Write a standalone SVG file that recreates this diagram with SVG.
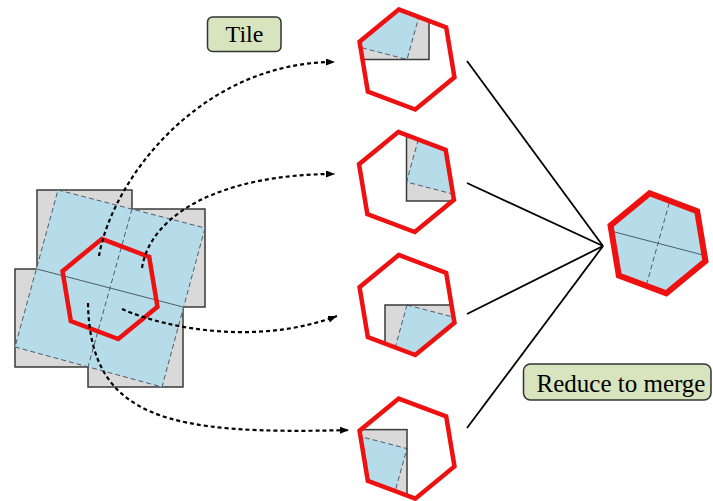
<svg xmlns="http://www.w3.org/2000/svg" width="713" height="501" viewBox="0 0 713 501">
<style>
.gray{fill:#d9d9d9;stroke:none}
.grayedge{fill:none;stroke:#3a3a3a;stroke-width:1.5}
.blue{fill:#b5dce8;stroke:none}
.dash{fill:none;stroke:#4d5b68;stroke-width:1;stroke-dasharray:5 3}
.solidthin{fill:none;stroke:#4d5b68;stroke-width:1}
.hex{fill:none;stroke:#ee1111;stroke-width:4.5;stroke-linejoin:miter}
.dots{fill:none;stroke:#000;stroke-width:2.2;stroke-dasharray:4 3}
.conn{fill:none;stroke:#000;stroke-width:1.8}
.lbl{fill:#d7e4bd;stroke:#333;stroke-width:1.5}
.txt{font-family:"Liberation Serif","Times New Roman",serif;fill:#000;text-anchor:middle}
</style>
<defs>
<path id="hexp" d="M-8.28,-50.02 L39.18,-32.18 L47.46,17.84 L8.28,50.02 L-39.18,32.18 L-47.46,-17.84 Z"/>
<clipPath id="hexclip"><use href="#hexp"/></clipPath>
<marker id="ah" markerUnits="userSpaceOnUse" markerWidth="10" markerHeight="8" refX="9" refY="3.5" orient="auto"><path d="M0,0 L9,3.5 L0,7 Z" fill="#000"/></marker>
</defs>

<g id="source">
<polygon class="gray" points="37,190 132,190 132,209 205,209 205,307 183,307 183,387 88,387 88,367 15,367 15,269 37,269"/>
<polygon class="grayedge" points="37,190 132,190 132,209 205,209 205,307 183,307 183,387 88,387 88,367 15,367 15,269 37,269"/>
<polygon class="blue" points="58,190 205,228 162,387 15,347"/>
<polygon class="dash" points="58,190 205,228 162,387 15,347"/>
<line class="solidthin" x1="37" y1="269" x2="183" y2="307"/>
<line class="dash" x1="132" y1="209" x2="88" y2="367"/>
<use href="#hexp" class="hex" transform="translate(110,289)"/>
</g>

<g id="tile1" transform="translate(407,59.5)">
<g clip-path="url(#hexclip)">
<rect class="gray" x="-73" y="-98" width="95" height="98"/>
<polygon class="blue" points="-52,-98 22,-79 0,0 -73,-19"/>
<polygon class="dash" points="-52,-98 22,-79 0,0 -73,-19"/>
<rect class="grayedge" x="-73" y="-98" width="95" height="98"/>
</g>
<use href="#hexp" class="hex"/>
</g>

<g id="tile2" transform="translate(406.5,182)">
<g clip-path="url(#hexclip)">
<rect class="gray" x="0" y="-79" width="95" height="98"/>
<polygon class="blue" points="22,-79 95,-60 73,19 0,0"/>
<polygon class="dash" points="22,-79 95,-60 73,19 0,0"/>
<rect class="grayedge" x="0" y="-79" width="95" height="98"/>
</g>
<use href="#hexp" class="hex"/>
</g>

<g id="tile3" transform="translate(407,305)">
<g clip-path="url(#hexclip)">
<rect class="gray" x="-22" y="0" width="95" height="99"/>
<polygon class="blue" points="0,0 73,19 52,99 -22,79"/>
<polygon class="dash" points="0,0 73,19 52,99 -22,79"/>
<rect class="grayedge" x="-22" y="0" width="95" height="99"/>
</g>
<use href="#hexp" class="hex"/>
</g>

<g id="tile4" transform="translate(407,448.6)">
<g clip-path="url(#hexclip)">
<rect class="gray" x="-95" y="-19" width="95" height="98"/>
<polygon class="blue" points="-73,-19 0,0 -22,79 -95,59"/>
<polygon class="dash" points="-73,-19 0,0 -22,79 -95,59"/>
<rect class="grayedge" x="-95" y="-19" width="95" height="98"/>
</g>
<use href="#hexp" class="hex"/>
</g>

<g id="merged" transform="translate(658,243.3)">
<use href="#hexp" fill="#b5dce8"/>
<g clip-path="url(#hexclip)">
<line class="solidthin" x1="-73" y1="-19" x2="73" y2="19"/>
<line class="dash" x1="22" y1="-79" x2="-22" y2="79"/>
</g>
<use href="#hexp" class="hex" style="stroke-width:6"/>
</g>

<g id="label-tile">
<rect class="lbl" x="207.5" y="17" width="73.5" height="34.5" rx="5"/>
<text class="txt" x="244.5" y="42" font-size="24">Tile</text>
</g>

<g id="label-reduce">
<rect class="lbl" x="523.5" y="364" width="187.5" height="36" rx="7"/>
<text class="txt" x="621" y="392" font-size="25">Reduce to merge</text>
</g>

<g id="connectors">
<path class="dots" marker-end="url(#ah)" d="M99,256 C112,180 200,62 335,62"/>
<path class="dots" marker-end="url(#ah)" d="M142,268 C150,215 220,174 335,174"/>
<path class="dots" marker-end="url(#ah)" d="M122,309 C170,330 260,345 337,316"/>
<path class="dots" marker-end="url(#ah)" d="M88,303 C90,420 170,435 349,430"/>
<line class="conn" x1="467" y1="61" x2="603" y2="246"/>
<line class="conn" x1="467" y1="183" x2="603" y2="246"/>
<line class="conn" x1="467" y1="314" x2="603" y2="246"/>
<line class="conn" x1="467" y1="428" x2="603" y2="246"/>
</g>
</svg>
